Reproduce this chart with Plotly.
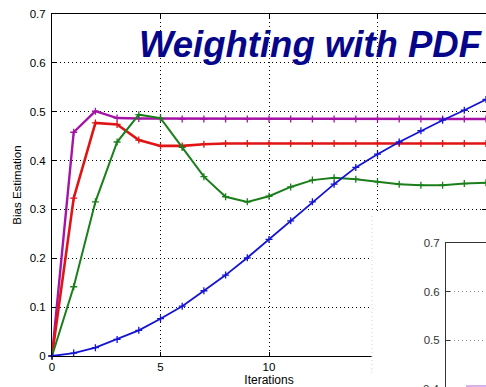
import plotly.graph_objects as go

# ---- data -------------------------------------------------------------
iterations = list(range(21))

bias_purple = [0.0, 0.458, 0.501, 0.487, 0.486, 0.486, 0.485, 0.485, 0.485, 0.485,
               0.485, 0.485, 0.485, 0.485, 0.485, 0.485, 0.485, 0.485, 0.485, 0.485, 0.485]
bias_red = [0.0, 0.323, 0.477, 0.474, 0.442, 0.430, 0.430, 0.4335, 0.435, 0.435,
            0.435, 0.435, 0.435, 0.435, 0.435, 0.435, 0.435, 0.435, 0.435, 0.435, 0.435]
bias_green = [0.0, 0.1417, 0.3155, 0.438, 0.494, 0.487, 0.427, 0.367, 0.326, 0.3155,
              0.327, 0.346, 0.360, 0.3646, 0.362, 0.3565, 0.3517, 0.3497, 0.3497, 0.353, 0.3544]
bias_blue = [0.0, 0.006, 0.017, 0.034, 0.0525, 0.0763, 0.102, 0.1336, 0.1656, 0.201,
             0.2386, 0.2767, 0.3156, 0.3517, 0.386, 0.413, 0.438, 0.461, 0.4826, 0.503, 0.525]

x_ticks = [0, 5, 10, 15, 20]
y_ticks = [0, 0.1, 0.2, 0.3, 0.4, 0.5, 0.6, 0.7]

# small second panel in the lower right corner
inset_x = [1, 2]
inset_purple = [0.405, 0.405]
inset_ticks = [0.5, 0.6, 0.7]

# ---- geometry (pixels in a 486 x 387 canvas) -------------------------
W, H = 486, 387
FONT = "Liberation Sans, Arial, Helvetica, sans-serif"


def px_x(p):
    return p / W


def px_y(p):
    return 1 - p / H


main_x_dom = [px_x(52), 1.0]
main_y_dom = [px_y(356), px_y(14)]
cover_x_dom = [px_x(372), 1.0]
cover_y_dom = [0.0, px_y(211)]
inset_x_dom = [px_x(446), 1.0]
inset_y_dom = [0.0, px_y(243.3)]
inset_hi = 0.7
inset_lo = inset_hi - (H - 243.3) / 484.0

fig = go.Figure()

series = [
    (bias_purple, "#a614a6", 2.4),
    (bias_red, "#e01414", 2.6),
    (bias_green, "#1a7f1a", 2.0),
    (bias_blue, "#1414d2", 1.8),
]
for vals, color, width in series:
    fig.add_trace(go.Scatter(
        x=iterations, y=vals, mode="lines+markers",
        line=dict(color=color, width=width),
        marker=dict(symbol="cross-thin", size=5, color=color,
                    line=dict(color=color, width=1.3)),
        showlegend=False, hoverinfo="skip", cliponaxis=False,
        xaxis="x", yaxis="y",
    ))

# blank white panel sitting over the lower right corner
fig.add_trace(go.Scatter(x=[], y=[], xaxis="x2", yaxis="y2", showlegend=False))

# inset panel
fig.add_trace(go.Scatter(
    x=inset_x, y=inset_purple, mode="lines",
    line=dict(color="#d8b2ee", width=2),
    showlegend=False, hoverinfo="skip", xaxis="x3", yaxis="y3",
))

axis_common = dict(
    showline=True, linecolor="black", linewidth=1,
    ticks="inside", ticklen=4, tickcolor="black", tickwidth=1,
    showgrid=True, gridcolor="black", gridwidth=1, griddash="1px,3px",
    zeroline=False, mirror="ticks", automargin=False,
    tickfont=dict(family=FONT, size=11.5, color="black"),
)

fig.update_layout(
    width=W, height=H,
    margin=dict(l=0, r=0, t=0, b=0, autoexpand=False),
    paper_bgcolor="white", plot_bgcolor="white",
    xaxis=dict(
        domain=main_x_dom, range=[0, 20], tickvals=x_ticks,
        title=dict(text="Iterations", font=dict(family=FONT, size=12, color="black"),
                   standoff=6),
        ticklabelstandoff=0,
        anchor="y",
        **axis_common,
    ),
    yaxis=dict(
        domain=main_y_dom, range=[0, 0.7], tickvals=y_ticks,
        ticktext=["0", "0.1", "0.2", "0.3", "0.4", "0.5", "0.6", "0.7"],
        title=dict(text="Bias Estimation", font=dict(family=FONT, size=11.5, color="black"),
                   standoff=5),
        ticklabelstandoff=3,
        anchor="x",
        **axis_common,
    ),
    xaxis2=dict(domain=cover_x_dom, anchor="y2", visible=False, range=[0, 1],
                automargin=False),
    yaxis2=dict(domain=cover_y_dom, anchor="x2", visible=False, range=[0, 1],
                automargin=False),
    xaxis3=dict(
        domain=inset_x_dom, anchor="y3", side="top", range=[0, 2],
        showline=True, linecolor="#333333", linewidth=1, automargin=False,
        showticklabels=False, ticks="", showgrid=False, zeroline=False,
    ),
    yaxis3=dict(
        domain=inset_y_dom, anchor="x3", range=[inset_lo, inset_hi],
        tickvals=inset_ticks, ticktext=["0.5", "0.6", "0.7"],
        showline=True, linecolor="#333333", linewidth=1, automargin=False,
        ticks="inside", ticklen=4, tickcolor="#333333", ticklabelstandoff=3,
        showgrid=True, gridcolor="#8a8a8a", gridwidth=1, griddash="1px,3px",
        zeroline=False,
        tickfont=dict(family=FONT, size=11.5, color="#333333"),
    ),
)

# lowest tick label of the inset panel, running off the bottom edge
fig.add_annotation(
    text="0.4", xref="paper", yref="paper",
    x=px_x(442), y=inset_y_dom[1] * (0.4 - inset_lo) / (inset_hi - inset_lo),
    xanchor="right", yanchor="middle", showarrow=False,
    font=dict(family=FONT, size=11.5, color="#333333"),
)

# faint left edge of the inset panel
fig.add_shape(
    type="line", xref="paper", yref="paper",
    x0=px_x(372), x1=px_x(372), y0=px_y(373), y1=px_y(213),
    line=dict(color="#d4d4d4", width=1, dash="1px,3px"), layer="above",
)

# chart heading
fig.add_annotation(
    text="<b><i>Weighting with PDF</i></b>", xref="paper", yref="paper",
    x=px_x(137), y=px_y(44), xanchor="left", yanchor="middle", showarrow=False,
    font=dict(family=FONT, size=36.5, color="#06068a"),
)

fig.write_html("out.html")
